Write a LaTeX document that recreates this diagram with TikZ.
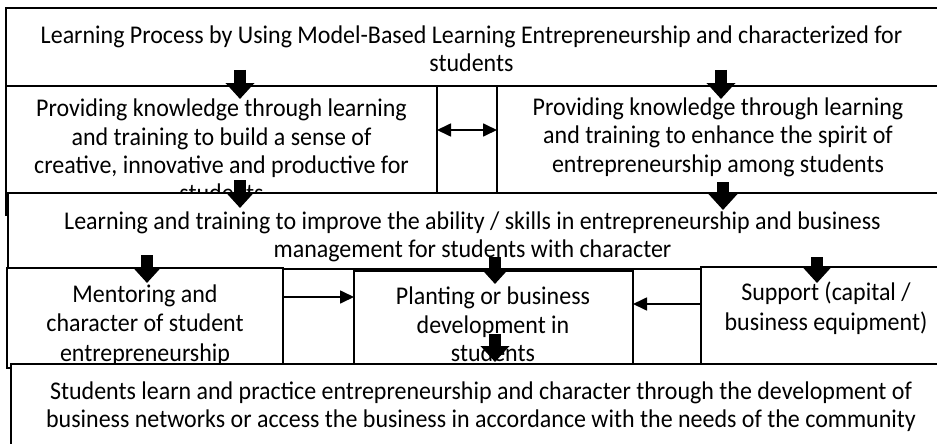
\documentclass[tikz,border=0pt]{standalone}
\usepackage{fontspec}
\setmainfont{Carlito}[FakeStretch=0.94]
\usetikzlibrary{arrows.meta}

\begin{document}
\begin{tikzpicture}[x=1pt, y=-1pt,
    >={Triangle[length=14pt, width=13pt]},
    box/.style={draw, fill=white, line width=1.4pt, anchor=north west, inner sep=0pt, outer sep=0pt},
    txt/.style={anchor=north, align=center, inner sep=0pt, font=\fontsize{25.5}{28.3}\selectfont},
    link/.style={line width=1.7pt},
    fat/.style={line width=12pt, -{Triangle[width=28pt, length=16pt]}}]
  \useasboundingbox (0,0) rectangle (937,444);
  \clip (0,0) rectangle (937,444);

  % boxes, each one covering the lower part of the one before
  \node[box, minimum width=934pt, minimum height=78pt] at (6,8) (top) {};
  \node[txt] at (471.5,25.5) (ttop) {Learning Process by Using Model-Based Learning Entrepreneurship and characterized for\\students};

  \node[box, minimum width=431pt, minimum height=129pt] at (6,86) (b2) {};
  \node[txt] at (221.5,99) (t2) {Providing knowledge through learning\\and training to build a sense of\\creative, innovative and productive for\\students};

  \node[box, minimum width=443pt, minimum height=107pt] at (497,86) (b3) {};
  \node[txt] at (718,97.5) (t3) {Providing knowledge through learning\\and training to enhance the spirit of\\entrepreneurship among students};

  \node[box, minimum width=932pt, minimum height=76pt] at (8,193) (b4) {};
  \node[txt] at (472.5,211.5) (t4) {Learning and training to improve the ability / skills in entrepreneurship and business\\management for students with character};

  \node[box, minimum width=276pt, minimum height=100pt] at (7,268) (b5) {};
  \node[txt, font=\fontsize{25.5}{29.5}\selectfont] at (145,284.5) (t5) {Mentoring and\\character of student\\entrepreneurship};

  \node[box, minimum width=279pt, minimum height=100pt] at (354,271) (b6) {};
  \node[txt] at (493,287) (t6) {Planting or business\\development in\\students};

  \node[box, minimum width=239pt, minimum height=100pt] at (701,267) (b7) {};
  \node[txt, font=\fontsize{25.5}{30}\selectfont] at (826,281.5) (t7) {Support (capital /\\business equipment)};

  \node[box, minimum width=940pt, minimum height=90pt] at (11,364) (b8) {};
  \node[txt] at (481,381.5) (t8) {Students learn and practice entrepreneurship and character through the development of\\business networks or access the business in accordance with the needs of the community};

  % side links
  \draw[link, <->] ([yshift=-44pt]b2.north east) -- ([yshift=-44pt]b3.north west);
  \coordinate (m5) at ([yshift=-29pt]b5.north east);
  \draw[link, ->] (m5) -- (m5 -| b6.west);
  \coordinate (s7) at ([yshift=-37pt]b7.north west);
  \draw[link, ->] (s7) -- (s7 -| b6.east);

  % thick down arrows
  \coordinate (a1) at (240,70);  \coordinate (a1e) at (240,99);
  \coordinate (a2) at (721,70);  \coordinate (a2e) at (721,99);
  \coordinate (a3) at (240,180); \coordinate (a3e) at (240,208);
  \coordinate (a4) at (723,182); \coordinate (a4e) at (723,210);
  \coordinate (a5) at (147,255); \coordinate (a5e) at (147,283);
  \coordinate (a6) at (495,257); \coordinate (a6e) at (495,284);
  \coordinate (a7) at (817,257); \coordinate (a7e) at (817,283);
  \coordinate (a8) at (495,334); \coordinate (a8e) at (495,362);
  \draw[fat] (a1) -- (a1e);
  \draw[fat] (a2) -- (a2e);
  \draw[fat] (a3) -- (a3e);
  \draw[fat] (a4) -- (a4e);
  \draw[fat] (a5) -- (a5e);
  \draw[fat] (a6) -- (a6e);
  \draw[fat] (a7) -- (a7e);
  \draw[fat] (a8) -- (a8e);
\end{tikzpicture}
\end{document}
